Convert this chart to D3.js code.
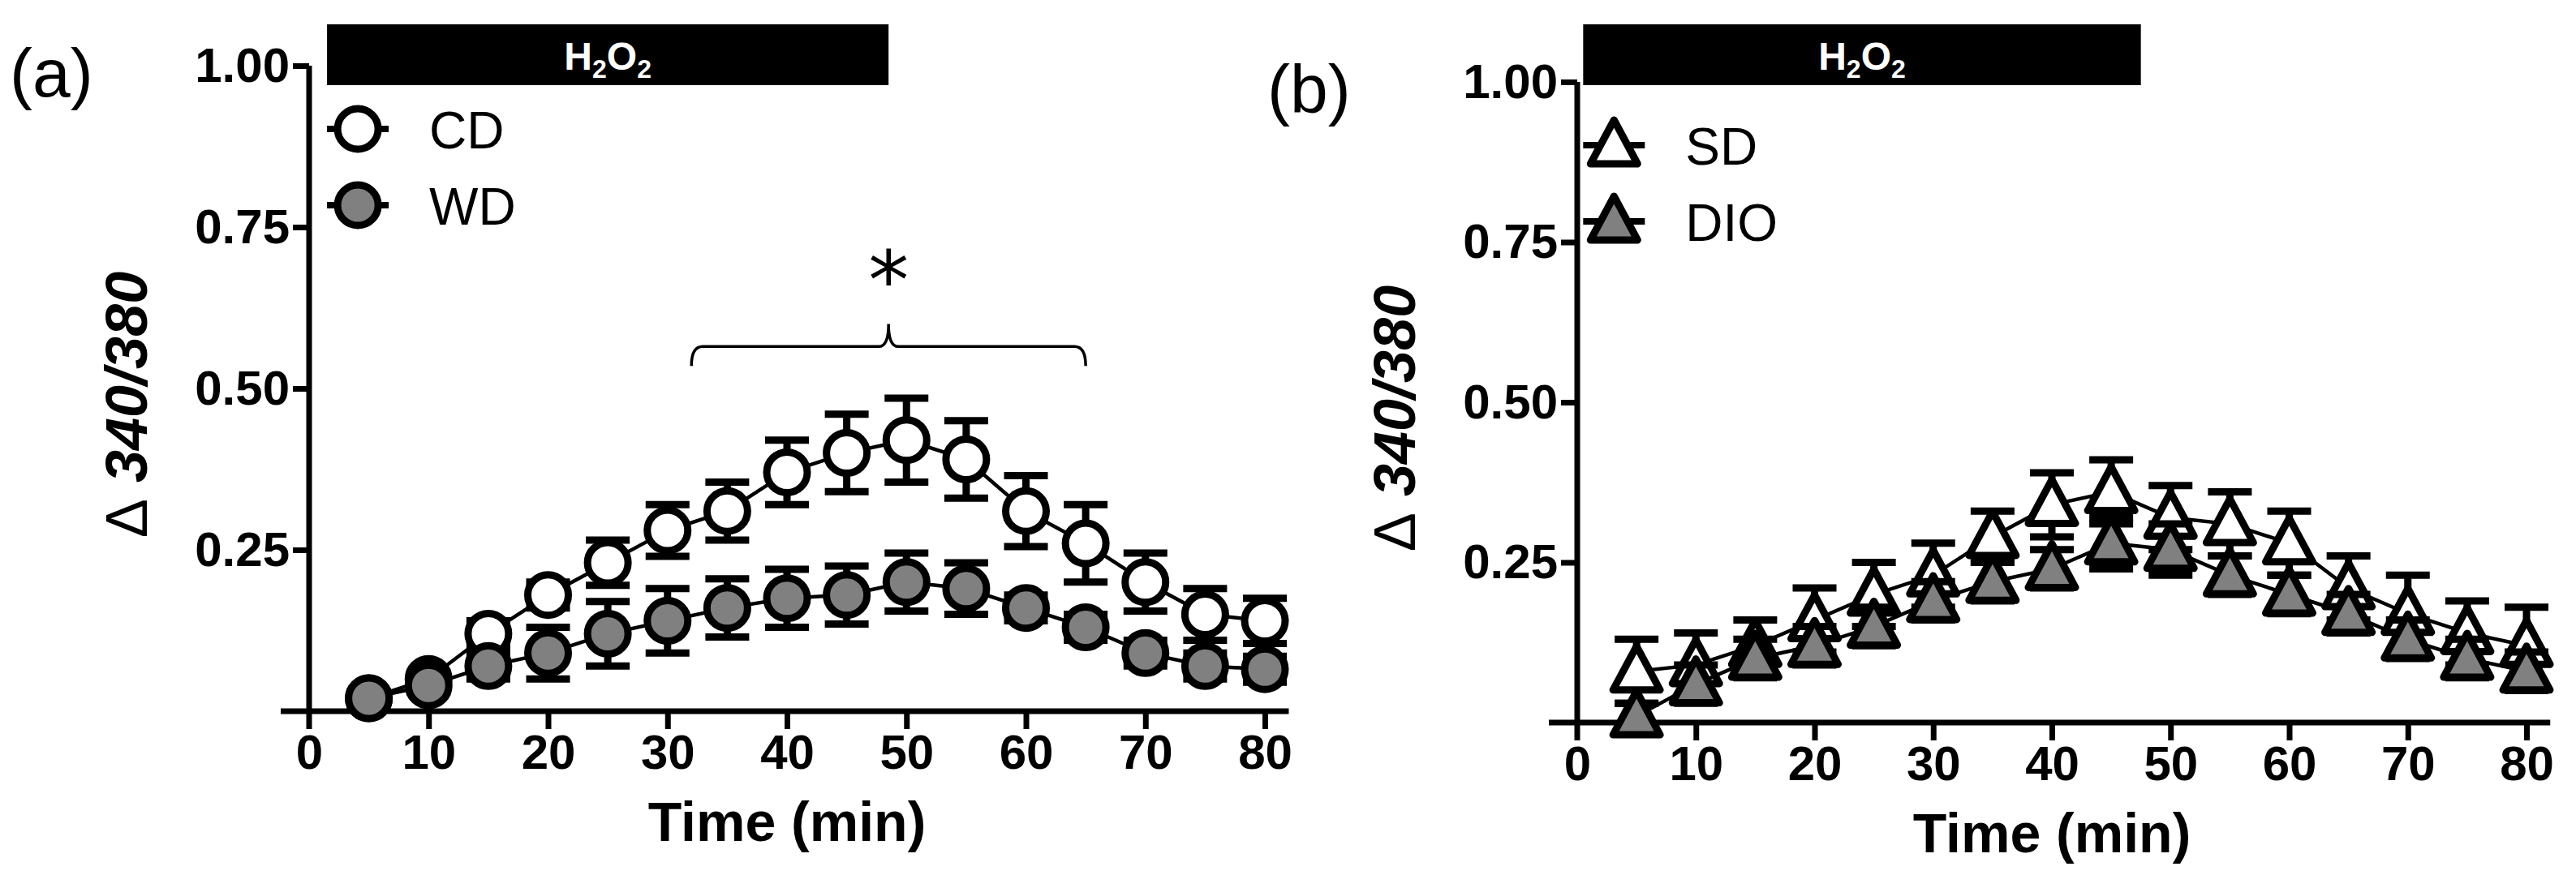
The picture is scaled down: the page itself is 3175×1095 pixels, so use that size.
<!DOCTYPE html><html><head><meta charset="utf-8">
<script src="https://cdn.jsdelivr.net/npm/d3@7"></script>
<style>body{margin:0;background:#fff}</style></head><body>
<svg id="c" width="3175" height="1095"></svg>
<script>
const times=[5,10,15,20,25,30,35,40,45,50,55,60,65,70,75,80];
const cdMean=[0.02,0.05,0.12,0.18,0.23,0.28,0.31,0.37,0.40,0.42,0.39,0.31,0.26,0.20,0.15,0.14];
const cdErr=[0.01,0.01,0.02,0.02,0.035,0.04,0.045,0.05,0.06,0.065,0.06,0.055,0.06,0.045,0.04,0.035];
const wdMean=[0.02,0.04,0.07,0.09,0.12,0.14,0.16,0.175,0.18,0.20,0.19,0.16,0.13,0.09,0.07,0.065];
const wdErr=[0.01,0.01,0.02,0.04,0.05,0.05,0.045,0.045,0.045,0.045,0.04,0.02,0.02,0.02,0.02,0.02];
const sdMean=[0.08,0.09,0.12,0.16,0.20,0.23,0.29,0.34,0.36,0.32,0.31,0.28,0.21,0.17,0.14,0.12];
const sdErr=[0.05,0.05,0.04,0.05,0.05,0.05,0.04,0.05,0.05,0.05,0.05,0.05,0.05,0.06,0.05,0.06];
const dioMean=[0.01,0.06,0.10,0.12,0.15,0.19,0.22,0.24,0.28,0.27,0.23,0.20,0.17,0.13,0.10,0.08];
const dioErr=[0.02,0.03,0.03,0.03,0.03,0.03,0.03,0.03,0.04,0.04,0.03,0.03,0.03,0.03,0.03,0.03];
const xTicks=[0,10,20,30,40,50,60,70,80];
const yTicks=[0.25,0.50,0.75,1.00];
const svg=d3.select("#c");
const F="'Liberation Sans Narrow','Arial Narrow','Liberation Sans',Arial,sans-serif";
const R="'Liberation Sans',Arial,sans-serif";
function panel(o){
  const g=svg.append("g");
  const x=d3.scaleLinear().domain([0,80]).range([o.x0,o.x80]);
  const y=d3.scaleLinear().domain([0,1]).range([o.y0,o.y1]);
  const ya=g.append("g").attr("transform",`translate(${o.x0},0)`).call(d3.axisLeft(y).tickValues(yTicks).tickFormat(d3.format(".2f")).tickSize(20).tickPadding(4));
  ya.select(".domain").attr("d",`M0,${y(1)}V${o.y0+22}`);
  const xa=g.append("g").attr("transform",`translate(0,${o.y0})`).call(d3.axisBottom(x).tickValues(xTicks).tickSize(22).tickPadding(6));
  xa.select(".domain").attr("d",`M${o.x0-35},0H${x(82)}`);
  g.selectAll(".domain,.tick line").attr("stroke","#000").attr("stroke-width",7);
  g.selectAll(".tick text").attr("font-family",F).attr("font-weight","bold").attr("font-size",60).attr("fill","#000");
  xa.selectAll(".tick").filter(d=>d===0).select("line").remove();
  g.append("rect").attr("x",x(o.barStart)).attr("y",o.barY).attr("width",x(o.barEnd)-x(o.barStart)).attr("height",75).attr("fill","#000");
  const t=g.append("text").attr("x",(x(o.barStart)+x(o.barEnd))/2).attr("y",o.barY+56).attr("text-anchor","middle").attr("fill","#fff").attr("font-family",F).attr("font-weight","bold").attr("font-size",48);
  t.append("tspan").text("H");t.append("tspan").text("2").attr("font-size",32).attr("dy",10);
  t.append("tspan").text("O").attr("dy",-10);t.append("tspan").text("2").attr("font-size",32).attr("dy",10);
  g.append("text").attr("x",o.labX).attr("y",o.y1+38).attr("font-family",R).attr("font-size",84).text(o.lab);
  g.append("text").attr("transform",`translate(${o.x0-200},${(o.y0+o.y1)/2+20}) rotate(-90)`).attr("text-anchor","middle").attr("font-family",R).attr("font-weight","bold").attr("font-style","italic").attr("font-size",72)
    .html('<tspan font-weight="normal" font-style="normal">Δ</tspan> 340/380');
  g.append("text").attr("x",x(40)).attr("y",o.y0+160).attr("text-anchor","middle").attr("font-family",F).attr("font-weight","bold").attr("font-size",68).text("Time (min)");
  o.series.forEach(s=>{
    const pts=times.map((t,i)=>({t,m:s.m[i],e:s.e[i]}));
    g.append("path").attr("d",d3.line().x(d=>x(d.t)).y(d=>y(d.m))(pts)).attr("fill","none").attr("stroke","#000").attr("stroke-width",4.5);
    pts.forEach(d=>{
      const cx=x(d.t);
      g.append("path").attr("d",`M${cx},${y(d.m-d.e)}V${y(d.m+d.e)}M${cx-27},${y(d.m+d.e)}H${cx+27}M${cx-27},${y(d.m-d.e)}H${cx+27}`).attr("stroke","#000").attr("stroke-width",9).attr("fill","none");
    });
    pts.forEach(d=>marker(g,s.shape,x(d.t),y(d.m),s.fill));
  });
  o.series.forEach((s,i)=>{
    const ly=o.y1+78+i*94, lx=x(o.barStart)+38;
    g.append("path").attr("d",`M${lx-38},${ly}H${lx+38}`).attr("stroke","#000").attr("stroke-width",8);
    marker(g,s.shape,lx,ly,s.fill);
    g.append("text").attr("x",lx+88).attr("y",ly+24).attr("font-family",R).attr("font-size",64).text(s.name);
  });
  return {g,x,y};
}
function marker(g,shape,cx,cy,fill){
  if(shape==="c") g.append("circle").attr("cx",cx).attr("cy",cy).attr("r",25).attr("fill",fill).attr("stroke","#000").attr("stroke-width",9);
  else g.append("path").attr("d",`M${cx},${cy-31}L${cx+29},${cy+23}H${cx-29}Z`).attr("fill",fill).attr("stroke","#000").attr("stroke-width",9).attr("stroke-linejoin","round");
}
const a=panel({x0:381,x80:1559,y0:877,y1:81,barStart:1.5,barEnd:48.5,barY:30,lab:"(a)",labX:12,
  series:[{name:"CD",m:cdMean,e:cdErr,shape:"c",fill:"#fff"},{name:"WD",m:wdMean,e:wdErr,shape:"c",fill:"#808080"}]});
const b=panel({x0:1944,x80:3114,y0:891,y1:101,barStart:0.5,barEnd:47.5,barY:30,lab:"(b)",labX:1562,
  series:[{name:"SD",m:sdMean,e:sdErr,shape:"t",fill:"#fff"},{name:"DIO",m:dioMean,e:dioErr,shape:"t",fill:"#808080"}]});
{const {g,x,y}=a; const xl=x(32),xr=x(65),xm=x(48.5),yb=y(0.565);
 g.append("path").attr("d",`M${xl},${y(0.535)}Q${xl},${yb} ${xl+14},${yb}H${xm-12}Q${xm},${yb} ${xm},${y(0.6)}Q${xm},${yb} ${xm+12},${yb}H${xr-14}Q${xr},${yb} ${xr},${y(0.535)}`)
  .attr("fill","none").attr("stroke","#000").attr("stroke-width",3.5);
 g.append("text").attr("x",xm).attr("y",y(0.6)-18).attr("text-anchor","middle").attr("font-family","'DejaVu Sans',sans-serif").attr("font-size",100).text("*");}
</script></body></html>
